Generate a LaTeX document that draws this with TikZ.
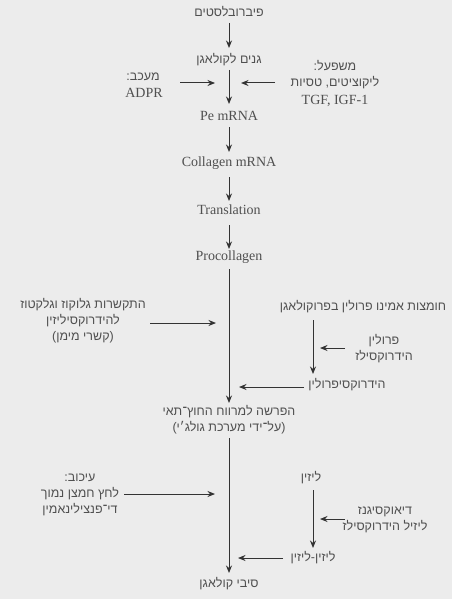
\documentclass[tikz,border=0pt]{standalone}
\usepackage{fontspec}
\setmainfont{Liberation Serif}
\newfontfamily\hebfont[Script=Hebrew]{Liberation Sans}
\TeXXeTstate=1
\usetikzlibrary{arrows.meta}
\definecolor{bg}{HTML}{ECECEC}
\definecolor{txt}{HTML}{505050}
\definecolor{arr}{HTML}{333333}
\newcommand\heb[1]{{\hebfont\beginR #1\endR}}
\tikzset{
  he/.style={text=txt, inner sep=0pt, align=center, font=\fontsize{12.5}{16}\selectfont},
  en/.style={text=txt, inner sep=0pt, align=center, font=\fontsize{14}{16}\selectfont},
  arrow/.style={draw=arr, line width=1pt, -{Stealth[length=7.5pt,width=6pt]}},
  plain/.style={draw=arr, line width=1pt}
}
\begin{document}
\begin{tikzpicture}[x=1pt,y=-1pt]
\fill[bg] (0,0) rectangle (452,599);
\useasboundingbox (0,0) rectangle (452,599);

% main column
\node[he] (fib) at (229,12) {\heb{פיברובלסטים}};
\node[he] (genes) at (229,60) {\heb{גנים לקולאגן}};
\node[en] (pe) at (229,116) {Pe mRNA};
\node[en] (cm) at (229,163) {Collagen mRNA};
\node[en] (tr) at (229,210) {Translation};
\node[en] (pro) at (229,257) {Procollagen};
\node[he] (sec) at (229,420) {\heb{הפרשה למרווח החוץ־תאי}\\\heb{(על־ידי מערכת גולג׳י)}};
\node[he] (fibers) at (229,584) {\heb{סיבי קולאגן}};

% side texts
\node[he] (inhibA) at (143,77) {\heb{מעכב:}};
\node[en] (inhibB) at (144,93) {ADPR};
\node[he] (actA) at (335,75) {\heb{משפעל:}\\\heb{ליקוציטים, טסיות}};
\node[en] (actB) at (335,101) {TGF, IGF-1};
\node[he] (glu) at (83,321) {\heb{התקשרות גלוקוז וגלקטוז}\\\heb{להידרוקסיליזין}\\\heb{(קשרי מימן)}};
\node[he] (amino) at (363,307) {\heb{חומצות אמינו פרולין בפרוקולאגן}};
\node[he] (prh) at (384,349) {\heb{פרולין}\\\heb{הידרוקסילז}};
\node[he] (hyp) at (347,385) {\heb{הידרוקסיפרולין}};
\node[he] (inh2) at (80,495) {\heb{עיכוב:}\\\heb{לחץ חמצן נמוך}\\\heb{די־פנצילינאמין}};
\node[he] (lys) at (311,478) {\heb{ליזין}};
\node[he] (dio) at (385,520) {\heb{דיאוקסיגנז}\\\heb{ליזיל הידרוקסילז}};
\node[he] (ll) at (313,558) {\heb{ליזין-ליזין}};

% main connectors
\draw[arrow] (229,23) -- (229,48);
\draw[arrow] (229,70) -- (229,104);
\draw[arrow] (229,127) -- (229,152);
\draw[arrow] (229,177) -- (229,201);
\draw[arrow] (229,225) -- (229,249);
\draw[arrow] (229,269) -- (229,403);
\draw[arrow] (229,438) -- (229,573);

% side connectors
\draw[arrow] (180,83) -- (215,83);
\draw[arrow] (275,83) -- (241,83);
\draw[arrow] (150,323) -- (216,323);
\draw[arrow] (313,320) -- (313,374);
\draw[arrow] (345,348) -- (320,348);
\draw[arrow] (304,387) -- (239,387);
\draw[arrow] (124,494) -- (215,494);
\draw[arrow] (313,490) -- (313,548);
\draw[arrow] (345,519) -- (320,519);
\draw[arrow] (283,558) -- (238,558);
\end{tikzpicture}
\end{document}
